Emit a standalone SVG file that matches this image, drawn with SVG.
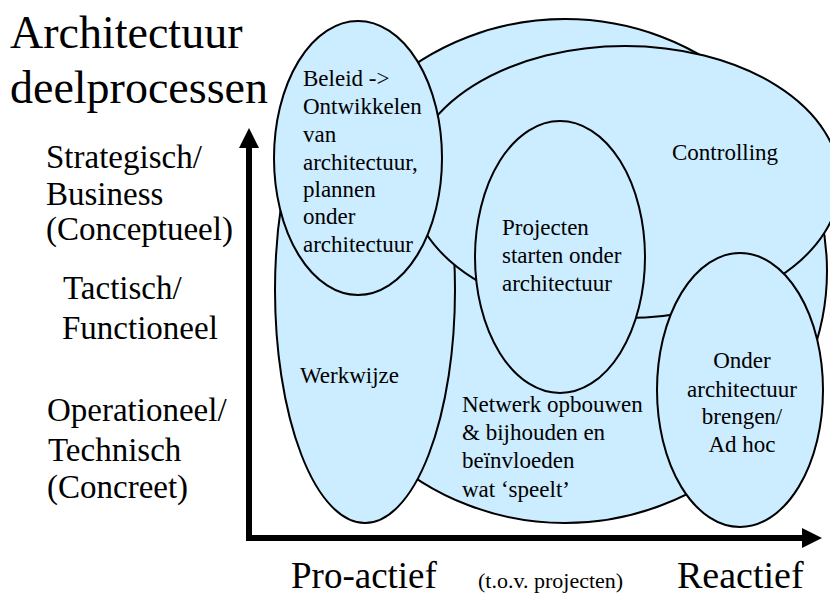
<svg xmlns="http://www.w3.org/2000/svg" width="830" height="595" viewBox="0 0 830 595">
<style>
.sh{fill:#CCECFF;stroke:#000;stroke-width:2}
</style>
<defs>
<marker id="ah" viewBox="0 -10 20 20" refX="0" refY="0" markerWidth="20" markerHeight="20" markerUnits="userSpaceOnUse" orient="auto-start-reverse">
<path d="M0,-10 L20,0 L0,10 z" fill="#000"/>
</marker>
</defs>
<rect width="830" height="595" fill="#fff"/>
<g font-family="'Liberation Serif', 'Times New Roman', serif" fill="#000">
<g id="title" font-size="46">
<text x="10" y="48">Architectuur</text>
<text x="10" y="103">deelprocessen</text>
</g>
<g id="axis-labels" font-size="33">
<text x="46" y="168">Strategisch/</text>
<text x="46" y="205">Business</text>
<text x="46" y="240">(Conceptueel)</text>
<text x="63" y="299">Tactisch/</text>
<text x="62" y="339">Functioneel</text>
<text x="47" y="421">Operationeel/</text>
<text x="48" y="461">Technisch</text>
<text x="47" y="498">(Concreet)</text>
</g>
<g id="x-labels">
<text x="291" y="588" font-size="37">Pro-actief</text>
<text x="478" y="588" font-size="22">(t.o.v. projecten)</text>
<text x="677" y="588" font-size="38">Reactief</text>
</g>
<g font-size="23">
<g id="netwerk">
<ellipse class="sh" cx="565" cy="271" rx="262" ry="252"/>
<text x="462" y="412">Netwerk opbouwen</text>
<text x="462" y="440">&amp; bijhouden en</text>
<text x="462" y="468">beïnvloeden</text>
<text x="462" y="497">wat ‘speelt’</text>
</g>
<g id="werkwijze">
<ellipse class="sh" cx="365" cy="290" rx="90" ry="233"/>
<text x="300" y="383">Werkwijze</text>
</g>
<g id="controlling">
<ellipse class="sh" cx="625" cy="182" rx="215" ry="136"/>
<text x="672" y="160">Controlling</text>
</g>
<g id="beleid">
<ellipse class="sh" cx="358" cy="158" rx="84" ry="137"/>
<text x="303" y="86">Beleid -&gt;</text>
<text x="303" y="114">Ontwikkelen</text>
<text x="303" y="142">van</text>
<text x="303" y="170">architectuur,</text>
<text x="303" y="197">plannen</text>
<text x="303" y="224">onder</text>
<text x="303" y="252">architectuur</text>
</g>
<g id="projecten">
<ellipse class="sh" cx="560" cy="257" rx="85" ry="136"/>
<text x="502" y="235">Projecten</text>
<text x="502" y="263">starten onder</text>
<text x="502" y="291">architectuur</text>
</g>
<g id="onder" text-anchor="middle">
<ellipse class="sh" cx="740" cy="390" rx="83" ry="137"/>
<text x="742" y="368">Onder</text>
<text x="742" y="397">architectuur</text>
<text x="742" y="424">brengen/</text>
<text x="742" y="452">Ad hoc</text>
</g>
</g>
</g>
<g id="connectors">
<path d="M249,148 L249,538 L802,538" fill="none" stroke="#000" stroke-width="6" marker-start="url(#ah)" marker-end="url(#ah)"/>
</g>
</svg>
